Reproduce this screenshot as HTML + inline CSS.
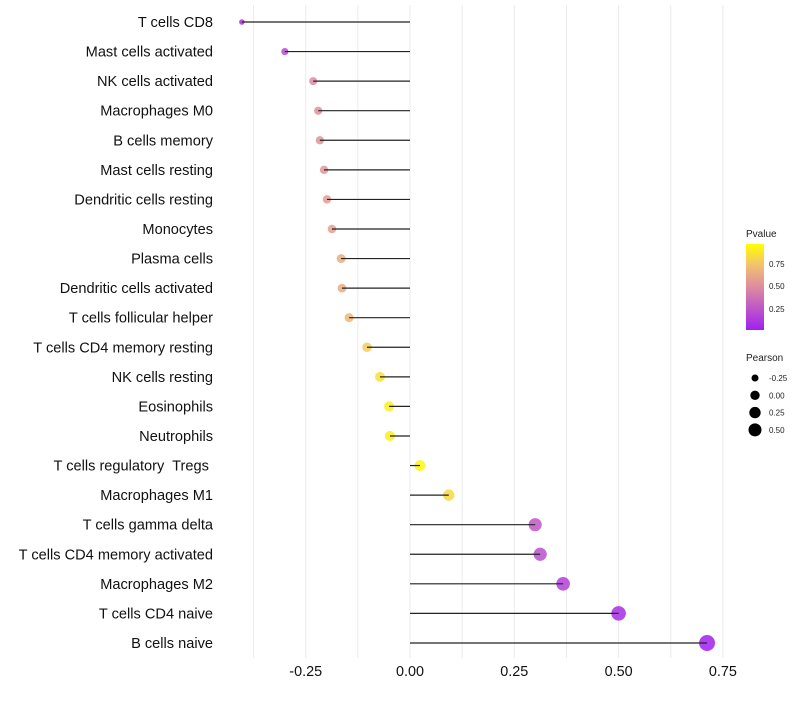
<!DOCTYPE html>
<html><head><meta charset="utf-8"><style>
body{margin:0;background:#fff;font-family:"Liberation Sans",sans-serif;}
svg text{font-family:"Liberation Sans",sans-serif;white-space:pre;}
</style></head><body>
<svg id="chart" width="800" height="700" xmlns="http://www.w3.org/2000/svg">
<defs><linearGradient id="pg" x1="0" y1="1" x2="0" y2="0">
<stop offset="0" stop-color="#a020f0"/><stop offset="0.5" stop-color="#dc8ca0"/><stop offset="0.75" stop-color="#f2c070"/><stop offset="1" stop-color="#ffff00"/></linearGradient></defs>
<g id="grid"></g>
<g id="marks"></g>
<g id="labels"></g>
<g id="ticks"></g>
<g>
<text x="746" y="237" font-size="10" fill="#222">Pvalue</text>
<rect x="746" y="244" width="18" height="86" fill="url(#pg)"/>
<text x="769" y="267" font-size="8" fill="#222">0.75</text>
<text x="769" y="289" font-size="8" fill="#222">0.50</text>
<text x="769" y="312" font-size="8" fill="#222">0.25</text>
</g>
<g id="sizeleg">
<text x="746" y="361" font-size="10" fill="#222">Pearson</text>
</g>
</svg>
<script>
const categories=["T cells CD8","Mast cells activated","NK cells activated","Macrophages M0","B cells memory","Mast cells resting","Dendritic cells resting","Monocytes","Plasma cells","Dendritic cells activated","T cells follicular helper","T cells CD4 memory resting","NK cells resting","Eosinophils","Neutrophils","T cells regulatory  Tregs ","Macrophages M1","T cells gamma delta","T cells CD4 memory activated","Macrophages M2","T cells CD4 naive","B cells naive"];
const pearson=[-0.403,-0.30,-0.232,-0.22,-0.216,-0.206,-0.199,-0.187,-0.165,-0.163,-0.146,-0.103,-0.072,-0.05,-0.048,0.024,0.093,0.30,0.312,0.367,0.50,0.712];
const pvalue=[0.08,0.2,0.5,0.52,0.53,0.55,0.57,0.6,0.65,0.66,0.7,0.8,0.88,0.93,0.93,0.97,0.85,0.25,0.22,0.15,0.06,0.0];
const xTicks=[-0.25,0,0.25,0.5,0.75];
const xTickLabels=["-0.25","0.00","0.25","0.50","0.75"];
const sizeLegend=[-0.25,0,0.25,0.5];
const NS="http://www.w3.org/2000/svg";
const x=v=>410+v*417.2;
const y=i=>22+i*29.57;
function rad(v){return Math.sqrt(Math.max(2.5,12.25+40*(v+0.25)));}
function lerp(a,b,t){return a.map((c,i)=>Math.round(c+(b[i]-c)*t));}
function col(p){const s=[[0,[160,32,240]],[0.5,[220,140,160]],[0.75,[242,192,112]],[1,[255,255,0]]];
for(let i=0;i<s.length-1;i++){if(p<=s[i+1][0]){const t=(p-s[i][0])/(s[i+1][0]-s[i][0]);const c=lerp(s[i][1],s[i+1][1],t);return `rgb(${c})`;}}return "rgb(255,255,0)";}
function mk(tag,attrs,parent){const e=document.createElementNS(NS,tag);for(const k in attrs)e.setAttribute(k,attrs[k]);parent.appendChild(e);return e;}
const grid=document.getElementById('grid');
for(let v=-0.375;v<=0.75;v+=0.125){const g=mk('line',{x1:x(v),x2:x(v),y1:5,y2:658,stroke:'#ebebeb','stroke-width':1},grid);

}
const marks=document.getElementById('marks'),labels=document.getElementById('labels');
categories.forEach((c,i)=>{
const d=mk('circle',{cx:x(pearson[i]),cy:y(i),r:rad(pearson[i])*1.12,fill:col(pvalue[i]),'fill-opacity':0.85},marks);


const l=mk('line',{x1:x(0),x2:x(pearson[i]),y1:y(i),y2:y(i),stroke:'#222','stroke-width':1.2},marks);


const t=mk('text',{x:213,y:y(i)+5,'text-anchor':'end','font-size':14.6,fill:'#111'},labels);
t.textContent=c;


});
const ticks=document.getElementById('ticks');
xTicks.forEach((v,i)=>{const t=mk('text',{x:x(v),y:676,'text-anchor':'middle','font-size':14.4,fill:'#111'},ticks);
t.textContent=xTickLabels[i];

});
const sl=document.getElementById('sizeleg');
sizeLegend.forEach((v,i)=>{const cy=378+i*17.3;
const c=mk('circle',{cx:755,cy:cy,r:rad(v),fill:'#000'},sl);


const t=mk('text',{x:769,y:cy+3,'font-size':8,fill:'#222'},sl);
t.textContent=v.toFixed(2);

});
</script>
</body></html>
